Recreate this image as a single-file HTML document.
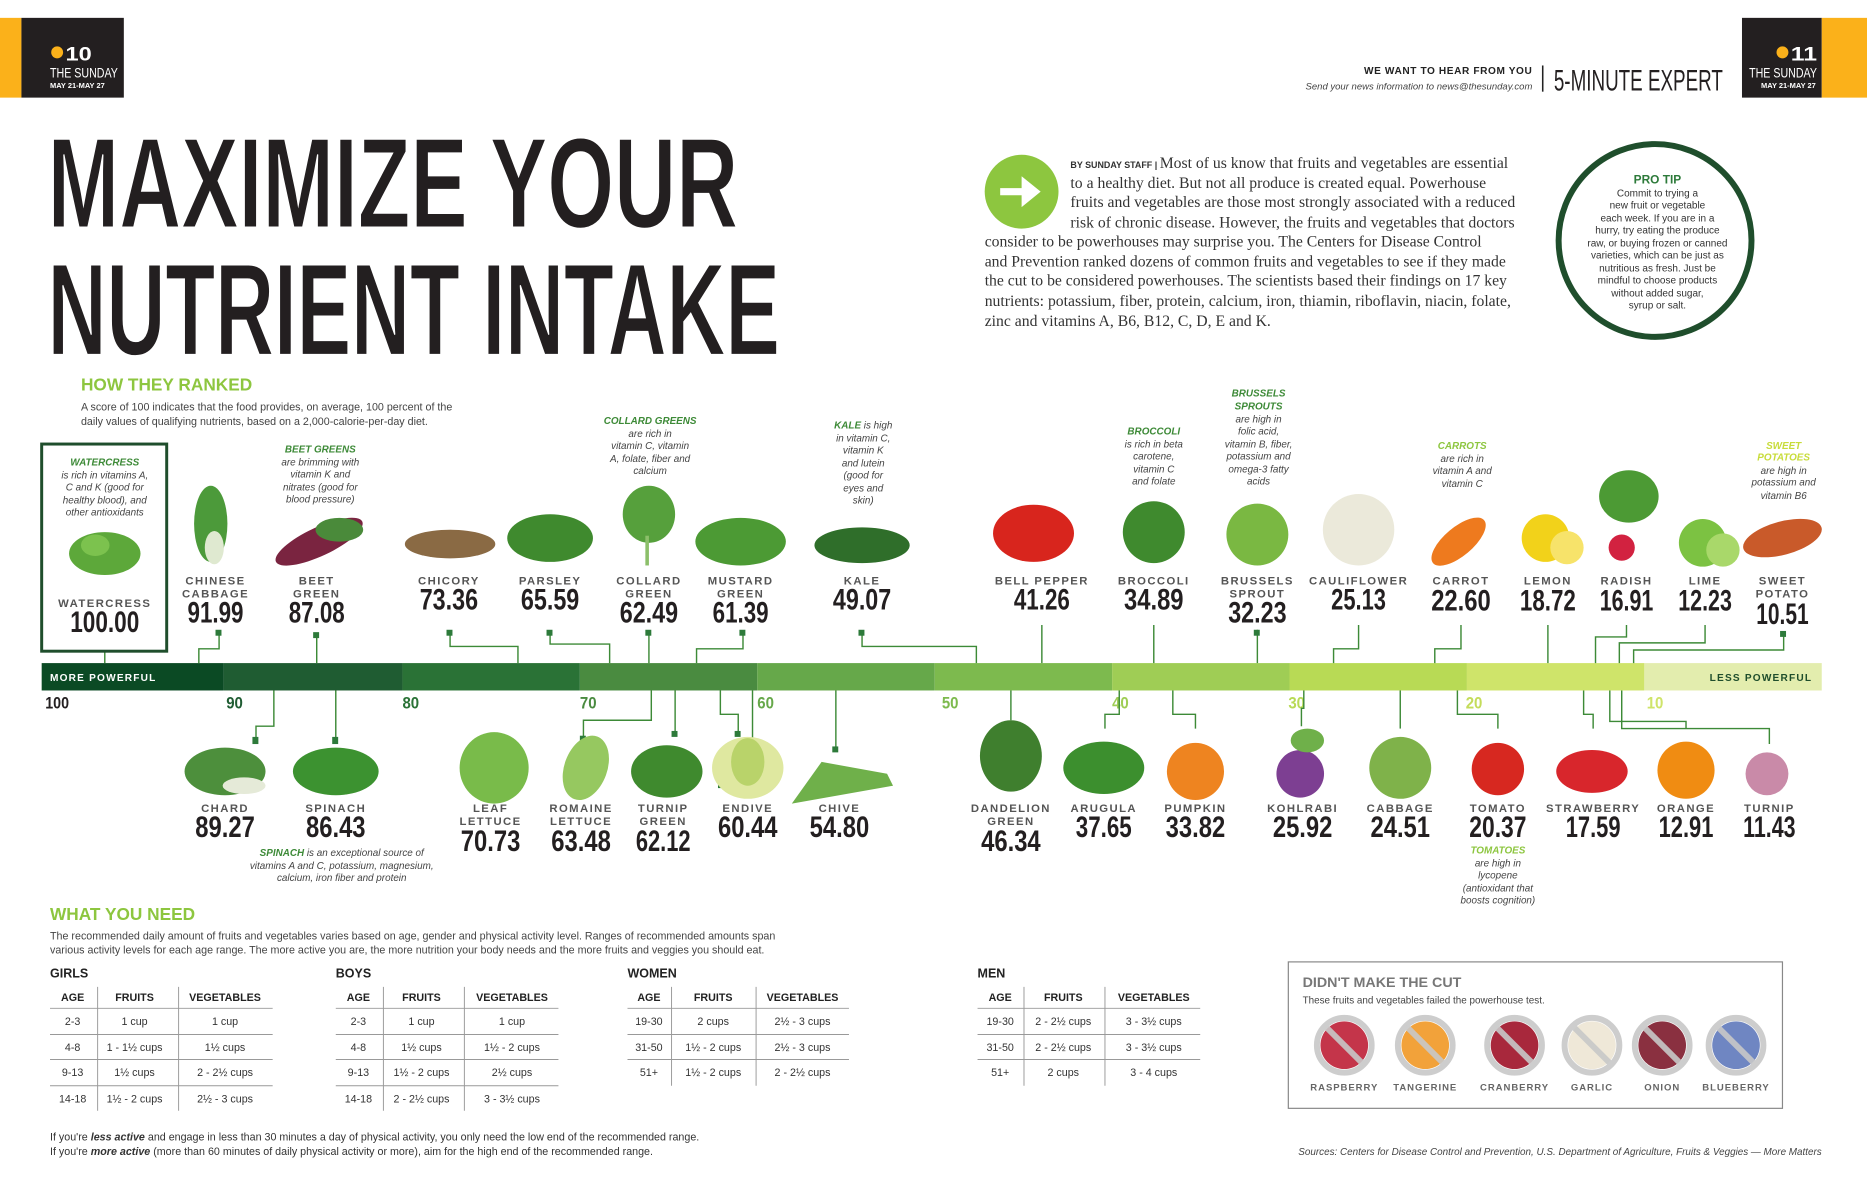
<!DOCTYPE html>
<html><head><meta charset="utf-8"><style>
html,body{margin:0;padding:0;background:#fff;}
svg{display:block;}
.lb{font-family:"Liberation Sans",sans-serif;font-weight:bold;font-size:9.5px;letter-spacing:1.2px;fill:#555;text-anchor:middle;}
.sc{font-family:"Liberation Sans",sans-serif;font-weight:bold;font-size:25px;fill:#231f20;text-anchor:middle;}
.nt{font-family:"Liberation Sans",sans-serif;font-style:italic;font-size:8.3px;fill:#444;text-anchor:middle;}
.ng{font-weight:bold;fill:#3d8a37;}
.tk{font-family:"Liberation Sans",sans-serif;font-weight:bold;font-size:14px;}
.tb{font-family:"Liberation Sans",sans-serif;font-size:9px;fill:#333;text-anchor:middle;}
.th{font-family:"Liberation Sans",sans-serif;font-size:9px;font-weight:bold;fill:#222;text-anchor:middle;}
.gh{font-family:"Liberation Sans",sans-serif;font-size:10.5px;font-weight:bold;fill:#222;}
.sf{font-family:"Liberation Serif",serif;font-size:13.2px;fill:#333;}
.ln{stroke:#3d8a37;stroke-width:1.2;fill:none;}
.mk{fill:#2d7a3a;}
</style></head><body>
<svg width="1867" height="1200" viewBox="0 0 1568 1008" preserveAspectRatio="none" xmlns="http://www.w3.org/2000/svg">
<rect x="0" y="15" width="18" height="67" fill="#fbb11a"/>
<rect x="18" y="15" width="86" height="67" fill="#231f20"/>
<circle cx="48" cy="44" r="5" fill="#fbb11a"/>
<text x="55" y="51" font-family="Liberation Sans" font-weight="bold" font-size="16" fill="#fff" textLength="22" lengthAdjust="spacingAndGlyphs">10</text>
<text x="42" y="65" font-family="Liberation Sans" font-size="12" fill="#fff" textLength="57" lengthAdjust="spacingAndGlyphs">THE SUNDAY</text>
<text x="42" y="74" font-family="Liberation Sans" font-weight="bold" font-size="6" fill="#fff" textLength="46" lengthAdjust="spacingAndGlyphs">MAY 21-MAY 27</text>
<rect x="1463" y="15" width="67" height="67" fill="#231f20"/>
<rect x="1530" y="15" width="38" height="67" fill="#fbb11a"/>
<circle cx="1497" cy="44" r="5" fill="#fbb11a"/>
<text x="1504" y="51" font-family="Liberation Sans" font-weight="bold" font-size="16" fill="#fff" textLength="22" lengthAdjust="spacingAndGlyphs">11</text>
<text x="1469" y="65" font-family="Liberation Sans" font-size="12" fill="#fff" textLength="57" lengthAdjust="spacingAndGlyphs">THE SUNDAY</text>
<text x="1479" y="74" font-family="Liberation Sans" font-weight="bold" font-size="6" fill="#fff" textLength="46" lengthAdjust="spacingAndGlyphs">MAY 21-MAY 27</text>
<text x="1287" y="62" text-anchor="end" font-family="Liberation Sans" font-weight="bold" font-size="8.5" fill="#222" letter-spacing="0.5">WE WANT TO HEAR FROM YOU</text>
<text x="1287" y="75" text-anchor="end" font-family="Liberation Sans" font-style="italic" font-size="8" fill="#444">Send your news information to news@thesunday.com</text>
<rect x="1295" y="55" width="1.3" height="22" fill="#222"/>
<text x="1305" y="76" font-family="Liberation Sans" font-size="25" fill="#231f20" textLength="142" lengthAdjust="spacingAndGlyphs">5-MINUTE EXPERT</text>
<text x="40" y="191" font-family="Liberation Sans" font-weight="bold" font-size="108" fill="#231f20" stroke="#fff" stroke-width="1.5" textLength="580" lengthAdjust="spacingAndGlyphs">MAXIMIZE YOUR</text>
<text x="40" y="298" font-family="Liberation Sans" font-weight="bold" font-size="110" fill="#231f20" stroke="#fff" stroke-width="1.5" textLength="615" lengthAdjust="spacingAndGlyphs">NUTRIENT INTAKE</text>
<circle cx="858" cy="161" r="31" fill="#8dc63f"/>
<path d="M840 158h18v-10l16 13-16 13v-10h-18z" fill="#fff"/>
<text class="sf"><tspan x="899" y="141"><tspan font-family="Liberation Sans" font-weight="bold" font-size="7.5">BY SUNDAY STAFF  |  </tspan>Most of us know that fruits and vegetables are essential</tspan>
<tspan x="899" y="158">to a healthy diet. But not all  produce is created equal.    Powerhouse</tspan>
<tspan x="899" y="174">fruits and vegetables are those most strongly associated with a reduced</tspan>
<tspan x="899" y="191">risk  of chronic disease. However, the fruits and vegetables that doctors</tspan>
<tspan x="827" y="207">consider to be powerhouses may surprise you.    The Centers for Disease Control</tspan>
<tspan x="827" y="224">and Prevention ranked dozens of common fruits and vegetables to see if they made</tspan>
<tspan x="827" y="240">the cut to be considered powerhouses. The scientists based their findings on 17 key</tspan>
<tspan x="827" y="257">nutrients: potassium, fiber, protein, calcium, iron, thiamin, riboflavin, niacin, folate,</tspan>
<tspan x="827" y="274">zinc and vitamins A, B6,  B12, C, D, E and K.</tspan></text>
<circle cx="1390" cy="202" r="81" fill="none" stroke="#1f4e2c" stroke-width="5"/>
<text x="1392" y="154" text-anchor="middle" font-family="Liberation Sans" font-weight="bold" font-size="10" fill="#2d7a3a">PRO TIP</text>
<g font-family="Liberation Sans" font-size="8.4" fill="#333" text-anchor="middle">
<text x="1392" y="165">Commit to trying a</text><text x="1392" y="175">new fruit or vegetable</text><text x="1392" y="186">each week. If you are in a</text><text x="1392" y="196">hurry, try eating the produce</text><text x="1392" y="207">raw, or buying frozen or canned</text><text x="1392" y="217">varieties, which can be just as</text><text x="1392" y="228">nutritious as fresh. Just be</text><text x="1392" y="238">mindful to choose products</text><text x="1392" y="249">without added sugar,</text><text x="1392" y="259">syrup or salt.</text></g>
<text x="68" y="328" font-family="Liberation Sans" font-weight="bold" font-size="14.5" fill="#8dc63f">HOW THEY RANKED</text>
<text x="68" y="345" font-family="Liberation Sans" font-size="9" fill="#444">A score of 100 indicates that the food provides, on average, 100 percent of the</text>
<text x="68" y="357" font-family="Liberation Sans" font-size="9" fill="#444">daily values of qualifying nutrients, based on a 2,000-calorie-per-day diet.</text>
<rect x="35" y="557" width="153" height="23" fill="#0b4a24"/>
<rect x="188" y="557" width="150" height="23" fill="#1f5c32"/>
<rect x="338" y="557" width="149" height="23" fill="#2a7236"/>
<rect x="487" y="557" width="149" height="23" fill="#4a8b40"/>
<rect x="636" y="557" width="149" height="23" fill="#66a84a"/>
<rect x="785" y="557" width="149" height="23" fill="#7dba4e"/>
<rect x="934" y="557" width="149" height="23" fill="#9fcd55"/>
<rect x="1083" y="557" width="149" height="23" fill="#b8da55"/>
<rect x="1232" y="557" width="149" height="23" fill="#cfe46a"/>
<rect x="1381" y="557" width="149" height="23" fill="#e3edae"/>
<text x="42" y="572" font-family="Liberation Sans" font-weight="bold" font-size="8.5" fill="#fff" letter-spacing="1">MORE POWERFUL</text>
<text x="1522" y="572" text-anchor="end" font-family="Liberation Sans" font-weight="bold" font-size="8.5" fill="#1f4e2c" letter-spacing="1">LESS POWERFUL</text>
<g class="tk">
<text x="38" y="595" fill="#231f20" textLength="20" lengthAdjust="spacingAndGlyphs">100</text>
<text x="190" y="595" fill="#1f5c32" textLength="14" lengthAdjust="spacingAndGlyphs">90</text>
<text x="338" y="595" fill="#2a7236" textLength="14" lengthAdjust="spacingAndGlyphs">80</text>
<text x="487" y="595" fill="#4a8b40" textLength="14" lengthAdjust="spacingAndGlyphs">70</text>
<text x="636" y="595" fill="#66a84a" textLength="14" lengthAdjust="spacingAndGlyphs">60</text>
<text x="791" y="595" fill="#7dba4e" textLength="14" lengthAdjust="spacingAndGlyphs">50</text>
<text x="934" y="595" fill="#9fcd55" textLength="14" lengthAdjust="spacingAndGlyphs">40</text>
<text x="1082" y="595" fill="#b8da55" textLength="14" lengthAdjust="spacingAndGlyphs">30</text>
<text x="1231" y="595" fill="#c4dc5a" textLength="14" lengthAdjust="spacingAndGlyphs">20</text>
<text x="1383" y="595" fill="#cfe46a" textLength="14" lengthAdjust="spacingAndGlyphs">10</text>
</g>
<g class="ln">
<path d="M88 547V557"/><path d="M184 531V545H167V557"/><path d="M266 534V557"/><path d="M378 531V543H435V557"/>
<path d="M462 531V541H512V557"/><path d="M545 531V557"/><path d="M624 531V545H585V557"/><path d="M724 531V543H820V557"/>
<path d="M875 525V557"/><path d="M969 525V557"/><path d="M1056 529V557"/><path d="M1141 525V545H1120V557"/>
<path d="M1227 525V545H1205V557"/><path d="M1300 525V557"/><path d="M1366 525V535H1340V557"/><path d="M1432 525V540H1360V557"/><path d="M1498 530V546H1372V557"/>
</g>
<g class="mk"><rect x="181" y="529" width="5" height="5"/><rect x="263" y="531" width="5" height="5"/><rect x="375" y="529" width="5" height="5"/><rect x="459" y="529" width="5" height="5"/><rect x="542" y="529" width="5" height="5"/><rect x="621" y="529" width="5" height="5"/><rect x="721" y="529" width="5" height="5"/><rect x="1053" y="529" width="5" height="5"/><rect x="1495" y="530" width="5" height="5"/></g>
<rect x="35" y="373" width="105" height="174" fill="none" stroke="#1f4e2c" stroke-width="2.5"/>
<text class="nt"><tspan x="88" y="391" class="ng">WATERCRESS</tspan><tspan x="88" y="402">is rich in vitamins A,</tspan><tspan x="88" y="412">C and K (good for</tspan><tspan x="88" y="423">healthy blood), and</tspan><tspan x="88" y="433">other antioxidants</tspan></text>
<g>
<ellipse cx="88" cy="465" rx="30" ry="18" fill="#5da83a"/><ellipse cx="80" cy="458" rx="12" ry="9" fill="#7cc24e"/>
<ellipse cx="177" cy="440" rx="14" ry="32" fill="#4c9a3a"/><ellipse cx="180" cy="460" rx="8" ry="14" fill="#dfe9d0"/>
<ellipse cx="268" cy="455" rx="40" ry="12" fill="#7a2440" transform="rotate(-25 268 455)"/><ellipse cx="285" cy="445" rx="20" ry="10" fill="#4a8a3a"/>
<ellipse cx="378" cy="457" rx="38" ry="12" fill="#8a6a44"/>
<ellipse cx="462" cy="452" rx="36" ry="20" fill="#3f8a2e"/>
<ellipse cx="545" cy="432" rx="22" ry="24" fill="#56a03c"/><rect x="542" y="450" width="3" height="25" fill="#8cbf6a"/>
<ellipse cx="622" cy="455" rx="38" ry="20" fill="#4c9a34"/>
<ellipse cx="724" cy="458" rx="40" ry="15" fill="#2f6e2a"/>
<ellipse cx="868" cy="448" rx="34" ry="24" fill="#d8251d"/>
<circle cx="969" cy="447" r="26" fill="#3f8a2e"/>
<circle cx="1056" cy="449" r="26" fill="#7ab842"/>
<circle cx="1141" cy="445" r="30" fill="#ebe9da"/>
<ellipse cx="1225" cy="455" rx="28" ry="12" fill="#ee7a1e" transform="rotate(-40 1225 455)"/>
<circle cx="1298" cy="452" r="20" fill="#f2d21a"/><circle cx="1316" cy="460" r="14" fill="#f7e36a"/>
<ellipse cx="1368" cy="417" rx="25" ry="22" fill="#4c9a34"/><circle cx="1362" cy="460" r="11" fill="#d22240"/>
<circle cx="1430" cy="456" r="20" fill="#7cc242"/><circle cx="1447" cy="462" r="14" fill="#a9d86a"/>
<ellipse cx="1497" cy="452" rx="34" ry="14" fill="#c95a2a" transform="rotate(-15 1497 452)"/>
</g>
<text class="nt"><tspan x="269" y="380" class="ng">BEET GREENS</tspan><tspan x="269" y="391">are brimming with</tspan><tspan x="269" y="401">vitamin K and</tspan><tspan x="269" y="412">nitrates (good for</tspan><tspan x="269" y="422">blood pressure)</tspan></text>
<text class="nt"><tspan x="546" y="356" class="ng">COLLARD GREENS</tspan><tspan x="546" y="367">are rich in</tspan><tspan x="546" y="377">vitamin C, vitamin</tspan><tspan x="546" y="388">A, folate, fiber and</tspan><tspan x="546" y="398">calcium</tspan></text>
<text class="nt"><tspan x="725" y="360"><tspan class="ng">KALE</tspan> is high</tspan><tspan x="725" y="371">in vitamin C,</tspan><tspan x="725" y="381">vitamin K</tspan><tspan x="725" y="392">and lutein</tspan><tspan x="725" y="402">(good for</tspan><tspan x="725" y="413">eyes and</tspan><tspan x="725" y="423">skin)</tspan></text>
<text class="nt"><tspan x="969" y="365" class="ng">BROCCOLI</tspan><tspan x="969" y="376">is rich in beta</tspan><tspan x="969" y="386">carotene,</tspan><tspan x="969" y="397">vitamin C</tspan><tspan x="969" y="407">and folate</tspan></text>
<text class="nt"><tspan x="1057" y="333" class="ng">BRUSSELS</tspan><tspan x="1057" y="344" class="ng">SPROUTS</tspan><tspan x="1057" y="355">are high in</tspan><tspan x="1057" y="365">folic acid,</tspan><tspan x="1057" y="376">vitamin B, fiber,</tspan><tspan x="1057" y="386">potassium and</tspan><tspan x="1057" y="397">omega-3 fatty</tspan><tspan x="1057" y="407">acids</tspan></text>
<text class="nt"><tspan x="1228" y="377" class="ng" style="fill:#8dc63f">CARROTS</tspan><tspan x="1228" y="388">are rich in</tspan><tspan x="1228" y="398">vitamin A and</tspan><tspan x="1228" y="409">vitamin C</tspan></text>
<text class="nt"><tspan x="1498" y="377" class="ng" style="fill:#c8dc3a">SWEET</tspan><tspan x="1498" y="387" class="ng" style="fill:#c8dc3a">POTATOES</tspan><tspan x="1498" y="398">are high in</tspan><tspan x="1498" y="408">potassium and</tspan><tspan x="1498" y="419">vitamin B6</tspan></text>
<text class="lb" x="88" y="510">WATERCRESS</text><text class="sc" x="88" y="531" textLength="58" lengthAdjust="spacingAndGlyphs">100.00</text>
<text class="lb" x="181" y="491">CHINESE</text><text class="lb" x="181" y="502">CABBAGE</text><text class="sc" x="181" y="523" textLength="47" lengthAdjust="spacingAndGlyphs">91.99</text>
<text class="lb" x="266" y="491">BEET</text><text class="lb" x="266" y="502">GREEN</text><text class="sc" x="266" y="523" textLength="47" lengthAdjust="spacingAndGlyphs">87.08</text>
<text class="lb" x="377" y="491">CHICORY</text><text class="sc" x="377" y="512" textLength="49" lengthAdjust="spacingAndGlyphs">73.36</text>
<text class="lb" x="462" y="491">PARSLEY</text><text class="sc" x="462" y="512" textLength="49" lengthAdjust="spacingAndGlyphs">65.59</text>
<text class="lb" x="545" y="491">COLLARD</text><text class="lb" x="545" y="502">GREEN</text><text class="sc" x="545" y="523" textLength="49" lengthAdjust="spacingAndGlyphs">62.49</text>
<text class="lb" x="622" y="491">MUSTARD</text><text class="lb" x="622" y="502">GREEN</text><text class="sc" x="622" y="523" textLength="47" lengthAdjust="spacingAndGlyphs">61.39</text>
<text class="lb" x="724" y="491">KALE</text><text class="sc" x="724" y="512" textLength="49" lengthAdjust="spacingAndGlyphs">49.07</text>
<text class="lb" x="875" y="491">BELL PEPPER</text><text class="sc" x="875" y="512" textLength="47" lengthAdjust="spacingAndGlyphs">41.26</text>
<text class="lb" x="969" y="491">BROCCOLI</text><text class="sc" x="969" y="512" textLength="50" lengthAdjust="spacingAndGlyphs">34.89</text>
<text class="lb" x="1056" y="491">BRUSSELS</text><text class="lb" x="1056" y="502">SPROUT</text><text class="sc" x="1056" y="523" textLength="49" lengthAdjust="spacingAndGlyphs">32.23</text>
<text class="lb" x="1141" y="491">CAULIFLOWER</text><text class="sc" x="1141" y="512" textLength="46" lengthAdjust="spacingAndGlyphs">25.13</text>
<text class="lb" x="1227" y="491">CARROT</text><text class="sc" x="1227" y="513" textLength="50" lengthAdjust="spacingAndGlyphs">22.60</text>
<text class="lb" x="1300" y="491">LEMON</text><text class="sc" x="1300" y="513" textLength="47" lengthAdjust="spacingAndGlyphs">18.72</text>
<text class="lb" x="1366" y="491">RADISH</text><text class="sc" x="1366" y="513" textLength="45" lengthAdjust="spacingAndGlyphs">16.91</text>
<text class="lb" x="1432" y="491">LIME</text><text class="sc" x="1432" y="513" textLength="45" lengthAdjust="spacingAndGlyphs">12.23</text>
<text class="lb" x="1497" y="491">SWEET</text><text class="lb" x="1497" y="502">POTATO</text><text class="sc" x="1497" y="524" textLength="44" lengthAdjust="spacingAndGlyphs">10.51</text>
<g class="ln">
<path d="M230 580V610H215V622"/><path d="M282 580V622"/><path d="M547 580V605H490V620"/><path d="M632 580V660H605"/>
<path d="M567 580V616"/><path d="M605 580V600H620V616"/><path d="M702 580V630"/><path d="M849 580V605"/>
<path d="M940 580V600H928V612"/><path d="M985 580V600H1004V612"/><path d="M1095 580V595H1093V610"/><path d="M1176 580V612"/>
<path d="M1224 580V600H1258V612"/><path d="M1330 580V600H1338V612"/><path d="M1352 580V606H1416V612"/><path d="M1362 580V612H1486V625"/>
</g>
<g class="mk"><rect x="212" y="619" width="5" height="6"/><rect x="279" y="619" width="5" height="6"/><rect x="487" y="618" width="5" height="6"/><rect x="603" y="657" width="5" height="5"/><rect x="564" y="614" width="5" height="5"/><rect x="617" y="614" width="5" height="5"/><rect x="699" y="627" width="5" height="5"/></g>
<g>
<ellipse cx="189" cy="648" rx="34" ry="20" fill="#4d8f3c"/><ellipse cx="205" cy="660" rx="18" ry="7" fill="#e5ead8"/>
<ellipse cx="282" cy="648" rx="36" ry="20" fill="#3c9230"/>
<ellipse cx="415" cy="645" rx="29" ry="30" fill="#79bb4a"/>
<ellipse cx="492" cy="645" rx="18" ry="28" fill="#96c860" transform="rotate(20 492 645)"/>
<ellipse cx="560" cy="648" rx="30" ry="22" fill="#3f8a2e"/>
<ellipse cx="628" cy="645" rx="30" ry="26" fill="#dfe8a0"/><ellipse cx="628" cy="640" rx="14" ry="20" fill="#b9d36a"/>
<path d="M665 675 L750 660 L745 650 L690 640 Z" fill="#6fb04a"/>
<ellipse cx="849" cy="635" rx="26" ry="30" fill="#3f7f2e"/>
<ellipse cx="927" cy="645" rx="34" ry="22" fill="#3c8f2e"/>
<circle cx="1004" cy="648" r="24" fill="#ee8420"/>
<circle cx="1092" cy="650" r="20" fill="#7d3f92"/><ellipse cx="1098" cy="622" rx="14" ry="10" fill="#6fb04a"/>
<circle cx="1176" cy="645" r="26" fill="#7fb24a"/>
<circle cx="1258" cy="646" r="22" fill="#d72820"/>
<ellipse cx="1337" cy="648" rx="30" ry="18" fill="#d8262c"/>
<circle cx="1416" cy="647" r="24" fill="#f08c12"/>
<circle cx="1484" cy="650" r="18" fill="#c98aa8"/>
</g>
<text class="lb" x="189" y="682">CHARD</text><text class="sc" x="189" y="703" textLength="50" lengthAdjust="spacingAndGlyphs">89.27</text>
<text class="lb" x="282" y="682">SPINACH</text><text class="sc" x="282" y="703" textLength="50" lengthAdjust="spacingAndGlyphs">86.43</text>
<text class="lb" x="412" y="682">LEAF</text><text class="lb" x="412" y="693">LETTUCE</text><text class="sc" x="412" y="715" textLength="50" lengthAdjust="spacingAndGlyphs">70.73</text>
<text class="lb" x="488" y="682">ROMAINE</text><text class="lb" x="488" y="693">LETTUCE</text><text class="sc" x="488" y="715" textLength="50" lengthAdjust="spacingAndGlyphs">63.48</text>
<text class="lb" x="557" y="682">TURNIP</text><text class="lb" x="557" y="693">GREEN</text><text class="sc" x="557" y="715" textLength="46" lengthAdjust="spacingAndGlyphs">62.12</text>
<text class="lb" x="628" y="682">ENDIVE</text><text class="sc" x="628" y="703" textLength="50" lengthAdjust="spacingAndGlyphs">60.44</text>
<text class="lb" x="705" y="682">CHIVE</text><text class="sc" x="705" y="703" textLength="50" lengthAdjust="spacingAndGlyphs">54.80</text>
<text class="lb" x="849" y="682">DANDELION</text><text class="lb" x="849" y="693">GREEN</text><text class="sc" x="849" y="715" textLength="50" lengthAdjust="spacingAndGlyphs">46.34</text>
<text class="lb" x="927" y="682">ARUGULA</text><text class="sc" x="927" y="703" textLength="47" lengthAdjust="spacingAndGlyphs">37.65</text>
<text class="lb" x="1004" y="682">PUMPKIN</text><text class="sc" x="1004" y="703" textLength="50" lengthAdjust="spacingAndGlyphs">33.82</text>
<text class="lb" x="1094" y="682">KOHLRABI</text><text class="sc" x="1094" y="703" textLength="50" lengthAdjust="spacingAndGlyphs">25.92</text>
<text class="lb" x="1176" y="682">CABBAGE</text><text class="sc" x="1176" y="703" textLength="50" lengthAdjust="spacingAndGlyphs">24.51</text>
<text class="lb" x="1258" y="682">TOMATO</text><text class="sc" x="1258" y="703" textLength="48" lengthAdjust="spacingAndGlyphs">20.37</text>
<text class="lb" x="1338" y="682">STRAWBERRY</text><text class="sc" x="1338" y="703" textLength="46" lengthAdjust="spacingAndGlyphs">17.59</text>
<text class="lb" x="1416" y="682">ORANGE</text><text class="sc" x="1416" y="703" textLength="46" lengthAdjust="spacingAndGlyphs">12.91</text>
<text class="lb" x="1486" y="682">TURNIP</text><text class="sc" x="1486" y="703" textLength="44" lengthAdjust="spacingAndGlyphs">11.43</text>
<text class="nt"><tspan x="287" y="719"><tspan class="ng">SPINACH</tspan> is an exceptional source of</tspan><tspan x="287" y="730">vitamins A and C, potassium, magnesium,</tspan><tspan x="287" y="740">calcium, iron fiber and protein</tspan></text>
<text class="nt"><tspan x="1258" y="717" class="ng" style="fill:#8dc63f">TOMATOES</tspan><tspan x="1258" y="728">are high in</tspan><tspan x="1258" y="738">lycopene</tspan><tspan x="1258" y="749">(antioxidant that</tspan><tspan x="1258" y="759">boosts cognition)</tspan></text>
<text x="42" y="773" font-family="Liberation Sans" font-weight="bold" font-size="14.5" fill="#8dc63f">WHAT YOU NEED</text>
<text x="42" y="789" font-family="Liberation Sans" font-size="9" fill="#444">The recommended daily amount of fruits and vegetables varies based on age, gender and physical activity level. Ranges of recommended amounts span</text>
<text x="42" y="801" font-family="Liberation Sans" font-size="9" fill="#444">various activity levels for each age range. The more active you are, the more nutrition your body needs and the more fruits and veggies you should eat.</text>
<g>
<text class="gh" x="42" y="821">GIRLS</text><text class="gh" x="282" y="821">BOYS</text><text class="gh" x="527" y="821">WOMEN</text><text class="gh" x="821" y="821">MEN</text>
<g stroke="#999" stroke-width="0.8">
<path d="M42 847H229M42 869H229M42 890H229M42 912H229"/><path d="M82 829V933M150 829V933"/>
<path d="M282 847H469M282 869H469M282 890H469M282 912H469"/><path d="M322 829V933M390 829V933"/>
<path d="M527 847H713M527 869H713M527 890H713"/><path d="M564 829V912M635 829V912"/>
<path d="M821 847H1008M821 869H1008M821 890H1008"/><path d="M860 829V912M928 829V912"/>
</g>
<text class="th" x="61" y="841">AGE</text><text class="th" x="113" y="841">FRUITS</text><text class="th" x="189" y="841">VEGETABLES</text>
<text class="tb" x="61" y="861">2-3</text><text class="tb" x="113" y="861">1 cup</text><text class="tb" x="189" y="861">1 cup</text>
<text class="tb" x="61" y="883">4-8</text><text class="tb" x="113" y="883">1 - 1½ cups</text><text class="tb" x="189" y="883">1½ cups</text>
<text class="tb" x="61" y="904">9-13</text><text class="tb" x="113" y="904">1½ cups</text><text class="tb" x="189" y="904">2 - 2½ cups</text>
<text class="tb" x="61" y="926">14-18</text><text class="tb" x="113" y="926">1½ - 2 cups</text><text class="tb" x="189" y="926">2½ - 3 cups</text>
<text class="th" x="301" y="841">AGE</text><text class="th" x="354" y="841">FRUITS</text><text class="th" x="430" y="841">VEGETABLES</text>
<text class="tb" x="301" y="861">2-3</text><text class="tb" x="354" y="861">1 cup</text><text class="tb" x="430" y="861">1 cup</text>
<text class="tb" x="301" y="883">4-8</text><text class="tb" x="354" y="883">1½ cups</text><text class="tb" x="430" y="883">1½ - 2 cups</text>
<text class="tb" x="301" y="904">9-13</text><text class="tb" x="354" y="904">1½ - 2 cups</text><text class="tb" x="430" y="904">2½ cups</text>
<text class="tb" x="301" y="926">14-18</text><text class="tb" x="354" y="926">2 - 2½ cups</text><text class="tb" x="430" y="926">3 - 3½ cups</text>
<text class="th" x="545" y="841">AGE</text><text class="th" x="599" y="841">FRUITS</text><text class="th" x="674" y="841">VEGETABLES</text>
<text class="tb" x="545" y="861">19-30</text><text class="tb" x="599" y="861">2 cups</text><text class="tb" x="674" y="861">2½ - 3 cups</text>
<text class="tb" x="545" y="883">31-50</text><text class="tb" x="599" y="883">1½ - 2 cups</text><text class="tb" x="674" y="883">2½ - 3 cups</text>
<text class="tb" x="545" y="904">51+</text><text class="tb" x="599" y="904">1½ - 2 cups</text><text class="tb" x="674" y="904">2 - 2½ cups</text>
<text class="th" x="840" y="841">AGE</text><text class="th" x="893" y="841">FRUITS</text><text class="th" x="969" y="841">VEGETABLES</text>
<text class="tb" x="840" y="861">19-30</text><text class="tb" x="893" y="861">2 - 2½ cups</text><text class="tb" x="969" y="861">3 - 3½ cups</text>
<text class="tb" x="840" y="883">31-50</text><text class="tb" x="893" y="883">2 - 2½ cups</text><text class="tb" x="969" y="883">3 - 3½ cups</text>
<text class="tb" x="840" y="904">51+</text><text class="tb" x="893" y="904">2 cups</text><text class="tb" x="969" y="904">3 - 4 cups</text>
</g>
<text x="42" y="958" font-family="Liberation Sans" font-size="9" fill="#333">If you're <tspan font-weight="bold" font-style="italic">less active</tspan> and engage in less than 30 minutes a day of physical activity, you only need the low end of the recommended range.</text>
<text x="42" y="970" font-family="Liberation Sans" font-size="9" fill="#333">If you're <tspan font-weight="bold" font-style="italic">more active</tspan> (more than 60 minutes of daily physical activity or more), aim for the high end of the recommended range.</text>
<text x="1530" y="970" text-anchor="end" font-family="Liberation Sans" font-style="italic" font-size="8.3" fill="#444">Sources: Centers for Disease Control and Prevention, U.S. Department of Agriculture, Fruits &amp; Veggies — More Matters</text>
<rect x="1082" y="808" width="415" height="123" fill="none" stroke="#888" stroke-width="1"/>
<text x="1094" y="829" font-family="Liberation Sans" font-weight="bold" font-size="12" fill="#777">DIDN'T MAKE THE CUT</text>
<text x="1094" y="843" font-family="Liberation Sans" font-size="8.3" fill="#444">These fruits and vegetables failed the powerhouse test.</text>
<g>
<circle cx="1129" cy="878" r="20" fill="#c4354a"/><circle cx="1197" cy="878" r="20" fill="#f2a23a"/><circle cx="1272" cy="878" r="20" fill="#a8283c"/>
<circle cx="1337" cy="878" r="20" fill="#efe8d8"/><circle cx="1396" cy="878" r="20" fill="#8a3040"/><circle cx="1458" cy="878" r="20" fill="#6f86c2"/>
<g fill="none" stroke="#c8c8c8" stroke-width="5" opacity="0.9">
<circle cx="1129" cy="878" r="23"/><circle cx="1197" cy="878" r="23"/><circle cx="1272" cy="878" r="23"/><circle cx="1337" cy="878" r="23"/><circle cx="1396" cy="878" r="23"/><circle cx="1458" cy="878" r="23"/>
<path d="M1113 862L1145 894M1181 862L1213 894M1256 862L1288 894M1321 862L1353 894M1380 862L1412 894M1442 862L1474 894"/>
</g>
<g font-family="Liberation Sans" font-weight="bold" font-size="8" fill="#666" text-anchor="middle" letter-spacing="0.8">
<text x="1129" y="916">RASPBERRY</text><text x="1197" y="916">TANGERINE</text><text x="1272" y="916">CRANBERRY</text><text x="1337" y="916">GARLIC</text><text x="1396" y="916">ONION</text><text x="1458" y="916">BLUEBERRY</text></g>
</g>
</svg>
</body></html>
